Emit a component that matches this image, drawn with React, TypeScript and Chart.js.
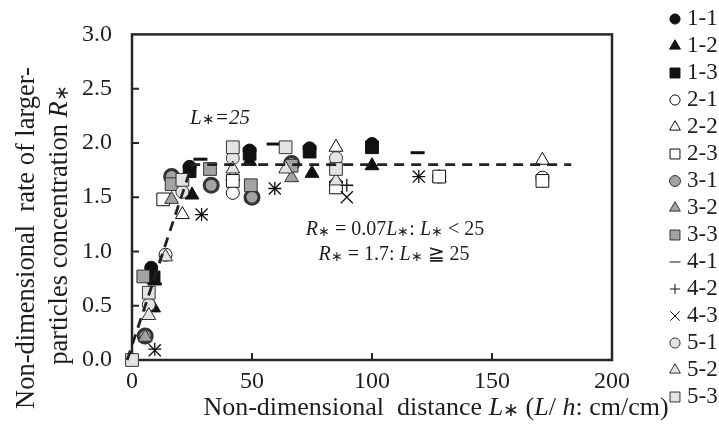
import { useEffect, useRef } from 'react';
import { Chart, registerables } from 'chart.js';
import { drawPoint } from 'chart.js/helpers';

Chart.register(...registerables);

// ---------- data ----------
const seriesNames = ['1-1', '1-2', '1-3', '2-1', '2-2', '2-3', '3-1', '3-2', '3-3', '4-1', '4-2', '4-3', '5-1', '5-2', '5-3'];

const x11 = [8, 24, 49, 74, 100];
const y11 = [0.85, 1.78, 1.93, 1.95, 1.99];
const x12 = [9, 25, 49, 75, 100];
const y12 = [0.48, 1.52, 1.83, 1.72, 1.79];
const x13 = [9, 24, 49, 74, 100];
const y13 = [0.76, 1.74, 1.9, 1.92, 1.96];
const x21 = [14, 42, 85, 128, 171];
const y21 = [0.97, 1.54, 1.62, 1.69, 1.68];
const x22 = [21, 42, 85, 128, 171];
const y22 = [1.34, 1.69, 1.96, 1.68, 1.84];
const x23 = [13, 42, 85, 128, 171];
const y23 = [1.48, 1.65, 1.59, 1.69, 1.65];
const x31 = [5.5, 16.5, 33, 50, 66.5];
const y31 = [0.22, 1.69, 1.61, 1.5, 1.81];
const x32 = [5.5, 16.5, 66.5];
const y32 = [0.21, 1.48, 1.68];
const x33 = [4.7, 16.5, 32.5, 49.5, 66.5];
const y33 = [0.77, 1.62, 1.76, 1.61, 1.79];
const x41 = [9.5, 28.5, 59, 119];
const y41 = [0.7, 1.85, 1.99, 1.91];
const x42 = [9.5, 29, 59.5, 89.5, 119.5];
const y42 = [0.1, 1.34, 1.58, 1.61, 1.69];
const x43 = [9.5, 29, 59.5, 89.5, 119.5];
const y43 = [0.09, 1.34, 1.58, 1.5, 1.69];
const x51 = [7, 21, 42, 85];
const y51 = [0.51, 1.55, 1.86, 1.86];
const x52 = [7, 14, 42, 64, 85];
const y52 = [0.41, 0.95, 1.76, 1.76, 1.65];
const x53 = [0, 7, 21, 42, 64, 85];
const y53 = [0, 0.62, 1.66, 1.96, 1.96, 1.76];

const seriesX = [x11, x12, x13, x21, x22, x23, x31, x32, x33, x41, x42, x43, x51, x52, x53];
const seriesY = [y11, y12, y13, y21, y22, y23, y31, y32, y33, y41, y42, y43, y51, y52, y53];

// model line R* = 0.07 L* (L* < 25), plateau beyond
const modelX = [-2, 25, 183];
const modelY = [0, 1.8, 1.8];

const xTicks = [0, 50, 100, 150, 200];
const yTicks = [0, 0.5, 1, 1.5, 2, 2.5, 3];

// ---------- styles ----------
const FONT = '"Liberation Serif"';
const TXT = '#1e1e1e';
const styles = [
  { ps: 'circle', r: 6.5, bg: '#111', bc: '#111', bw: 1 },
  { ps: 'triangle', r: 8, bg: '#111', bc: '#111', bw: 1 },
  { ps: 'rect', r: 9, bg: '#111', bc: '#111', bw: 1 },
  { ps: 'circle', r: 6.5, bg: '#fff', bc: '#111', bw: 1 },
  { ps: 'triangle', r: 8, bg: '#fff', bc: '#111', bw: 1 },
  { ps: 'rect', r: 9, bg: '#fff', bc: '#111', bw: 1 },
  { ps: 'circle', r: 7, bg: '#a3a3a3', bc: '#333', bw: 3 },
  { ps: 'triangle', r: 8, bg: '#a3a3a3', bc: '#333', bw: 1 },
  { ps: 'rect', r: 9, bg: '#a3a3a3', bc: '#333', bw: 1 },
  { ps: 'line', r: 7, bg: '#111', bc: '#111', bw: 3 },
  { ps: 'cross', r: 6.5, bg: '#111', bc: '#111', bw: 1.3 },
  { ps: 'crossRot', r: 8.5, bg: '#111', bc: '#111', bw: 1.3 },
  { ps: 'circle', r: 6.5, bg: '#e3e3e3', bc: '#333', bw: 1 },
  { ps: 'triangle', r: 8, bg: '#e3e3e3', bc: '#333', bw: 1 },
  { ps: 'rect', r: 9, bg: '#e3e3e3', bc: '#333', bw: 1 },
];

type Seg = { t: string; it?: boolean; sm?: boolean };

function drawRich(ctx: CanvasRenderingContext2D, segs: Seg[], x: number, y: number, size: number) {
  const fonts = segs.map((s) => `${s.it ? 'italic ' : ''}${s.sm ? Math.round(size * 0.72) : size}px ${FONT}`);
  let total = 0;
  const widths = segs.map((s, i) => {
    ctx.font = fonts[i];
    const w = ctx.measureText(s.t).width;
    total += w;
    return w;
  });
  let cx = x - total / 2;
  ctx.textBaseline = 'middle';
  ctx.textAlign = 'left';
  segs.forEach((s, i) => {
    ctx.font = fonts[i];
    ctx.fillText(s.t, cx, y + (s.sm ? size * 0.12 : 0));
    cx += widths[i];
  });
}

const decoPlugin = {
  id: 'deco',
  beforeDatasetsDraw(chart: any) {
    const { ctx, chartArea } = chart;
    const xs = chart.scales.x;
    const ys = chart.scales.y;
    ctx.save();
    ctx.strokeStyle = '#262626';
    ctx.lineWidth = 2.5;
    ctx.strokeRect(chartArea.left, chartArea.top, chartArea.right - chartArea.left, chartArea.bottom - chartArea.top);
    ctx.lineWidth = 2;
    ctx.beginPath();
    yTicks.slice(1, -1).forEach((v) => {
      const py = ys.getPixelForValue(v);
      ctx.moveTo(chartArea.left, py);
      ctx.lineTo(chartArea.left + 7, py);
    });
    xTicks.slice(1, -1).forEach((v) => {
      const px = xs.getPixelForValue(v);
      ctx.moveTo(px, chartArea.bottom);
      ctx.lineTo(px, chartArea.bottom - 7);
    });
    ctx.stroke();
    ctx.restore();
  },
  afterDraw(chart: any) {
    const { ctx } = chart;
    ctx.save();
    ctx.fillStyle = TXT;
    // y title (two rotated lines)
    ctx.save();
    ctx.translate(27, 238);
    ctx.rotate(-Math.PI / 2);
    drawRich(ctx, [{ t: 'Non-dimensional  rate of larger-' }], 0, 0, 26.5);
    ctx.restore();
    ctx.save();
    ctx.translate(60, 225);
    ctx.rotate(-Math.PI / 2);
    drawRich(ctx, [{ t: 'particles concentration ' }, { t: 'R', it: true }, { t: '∗', sm: true }], 0, 0, 26.5);
    ctx.restore();
    // x title
    drawRich(
      ctx,
      [
        { t: 'Non-dimensional  distance ' },
        { t: 'L', it: true },
        { t: '∗', sm: true },
        { t: ' (' },
        { t: 'L', it: true },
        { t: '/ ' },
        { t: 'h', it: true },
        { t: ': cm/cm)' },
      ],
      436,
      408,
      26
    );
    // annotations
    drawRich(ctx, [{ t: 'L', it: true }, { t: '∗', sm: true }, { t: '=25', it: true }], 220, 118, 21);
    drawRich(
      ctx,
      [{ t: 'R', it: true }, { t: '∗', sm: true }, { t: ' = 0.07' }, { t: 'L', it: true }, { t: '∗', sm: true }, { t: ': ' }, { t: 'L', it: true }, { t: '∗', sm: true }, { t: ' < 25' }],
      395,
      230,
      20
    );
    drawRich(
      ctx,
      [{ t: 'R', it: true }, { t: '∗', sm: true }, { t: ' = 1.7: ' }, { t: 'L', it: true }, { t: '∗', sm: true }, { t: ' ≧ 25' }],
      394,
      255,
      20
    );
    // legend
    seriesNames.forEach((name, i) => {
      const st = styles[i];
      const cy = 19 + i * 27;
      ctx.fillStyle = st.bg;
      ctx.strokeStyle = st.bc;
      drawPoint(ctx, { pointStyle: st.ps as any, radius: st.r * 0.78, borderWidth: st.bw, rotation: 0 }, 675, cy);
      ctx.fillStyle = TXT;
      ctx.font = `23px ${FONT}`;
      ctx.textAlign = 'left';
      ctx.textBaseline = 'middle';
      ctx.fillText(name, 687, cy);
    });
    ctx.restore();
  },
};

export default function App() {
  const ref = useRef<HTMLCanvasElement | null>(null);
  useEffect(() => {
    document.body.style.margin = '0';
    let chart: Chart | null = null;
    let cancelled = false;
    const build = () => {
      if (cancelled || !ref.current) return;
      const datasets: any[] = seriesNames.map((name, i) => ({
        type: 'scatter',
        label: name,
        data: seriesX[i].map((x, j) => ({ x, y: seriesY[i][j] })),
        pointStyle: styles[i].ps,
        pointRadius: styles[i].r,
        pointHoverRadius: styles[i].r,
        pointBackgroundColor: styles[i].bg,
        pointBorderColor: styles[i].bc,
        pointBorderWidth: styles[i].bw,
        showLine: false,
        clip: false,
        order: -i,
      }));
      datasets.push({
        type: 'scatter',
        label: 'model',
        data: modelX.map((x, j) => ({ x, y: modelY[j] })),
        showLine: true,
        borderColor: '#222',
        borderWidth: 2.8,
        borderDash: [10, 7],
        pointRadius: 0,
        clip: false,
        order: -100,
      });
      chart = new Chart(ref.current, {
        type: 'scatter',
        data: { datasets },
        options: {
          responsive: false,
          animation: false,
          events: [],
          layout: { padding: { left: 0, top: 19, right: 107, bottom: 0 } },
          plugins: { legend: { display: false }, tooltip: { enabled: false } },
          scales: {
            x: {
              type: 'linear',
              min: 0,
              max: 200,
              afterBuildTicks: (s: any) => {
                s.ticks = xTicks.map((v) => ({ value: v }));
              },
              ticks: { font: { family: FONT, size: 24 }, color: TXT, padding: 7, maxRotation: 0, autoSkip: false },
              grid: { display: false, drawTicks: false },
              border: { display: false },
              afterFit: (s: any) => {
                s.height = 65;
              },
            },
            y: {
              type: 'linear',
              min: 0,
              max: 3,
              afterBuildTicks: (s: any) => {
                s.ticks = yTicks.map((v) => ({ value: v }));
              },
              ticks: { font: { family: FONT, size: 24 }, color: TXT, padding: 20, autoSkip: false, callback: (v: any) => Number(v).toFixed(1) },
              grid: { display: false, drawTicks: false },
              border: { display: false },
              afterFit: (s: any) => {
                s.width = 132;
              },
            },
          },
        },
        plugins: [decoPlugin],
      });
    };
    const fontsApi: any = (document as any).fonts;
    if (fontsApi && fontsApi.load) {
      Promise.all([fontsApi.load(`24px ${FONT}`), fontsApi.load(`italic 24px ${FONT}`)])
        .catch(() => null)
        .then(build);
    } else {
      build();
    }
    return () => {
      cancelled = true;
      if (chart) chart.destroy();
    };
  }, []);
  return (
    <div style={{ width: 719, height: 425 }}>
      <canvas ref={ref} width={719} height={425} style={{ display: 'block', width: 719, height: 425 }} />
    </div>
  );
}
